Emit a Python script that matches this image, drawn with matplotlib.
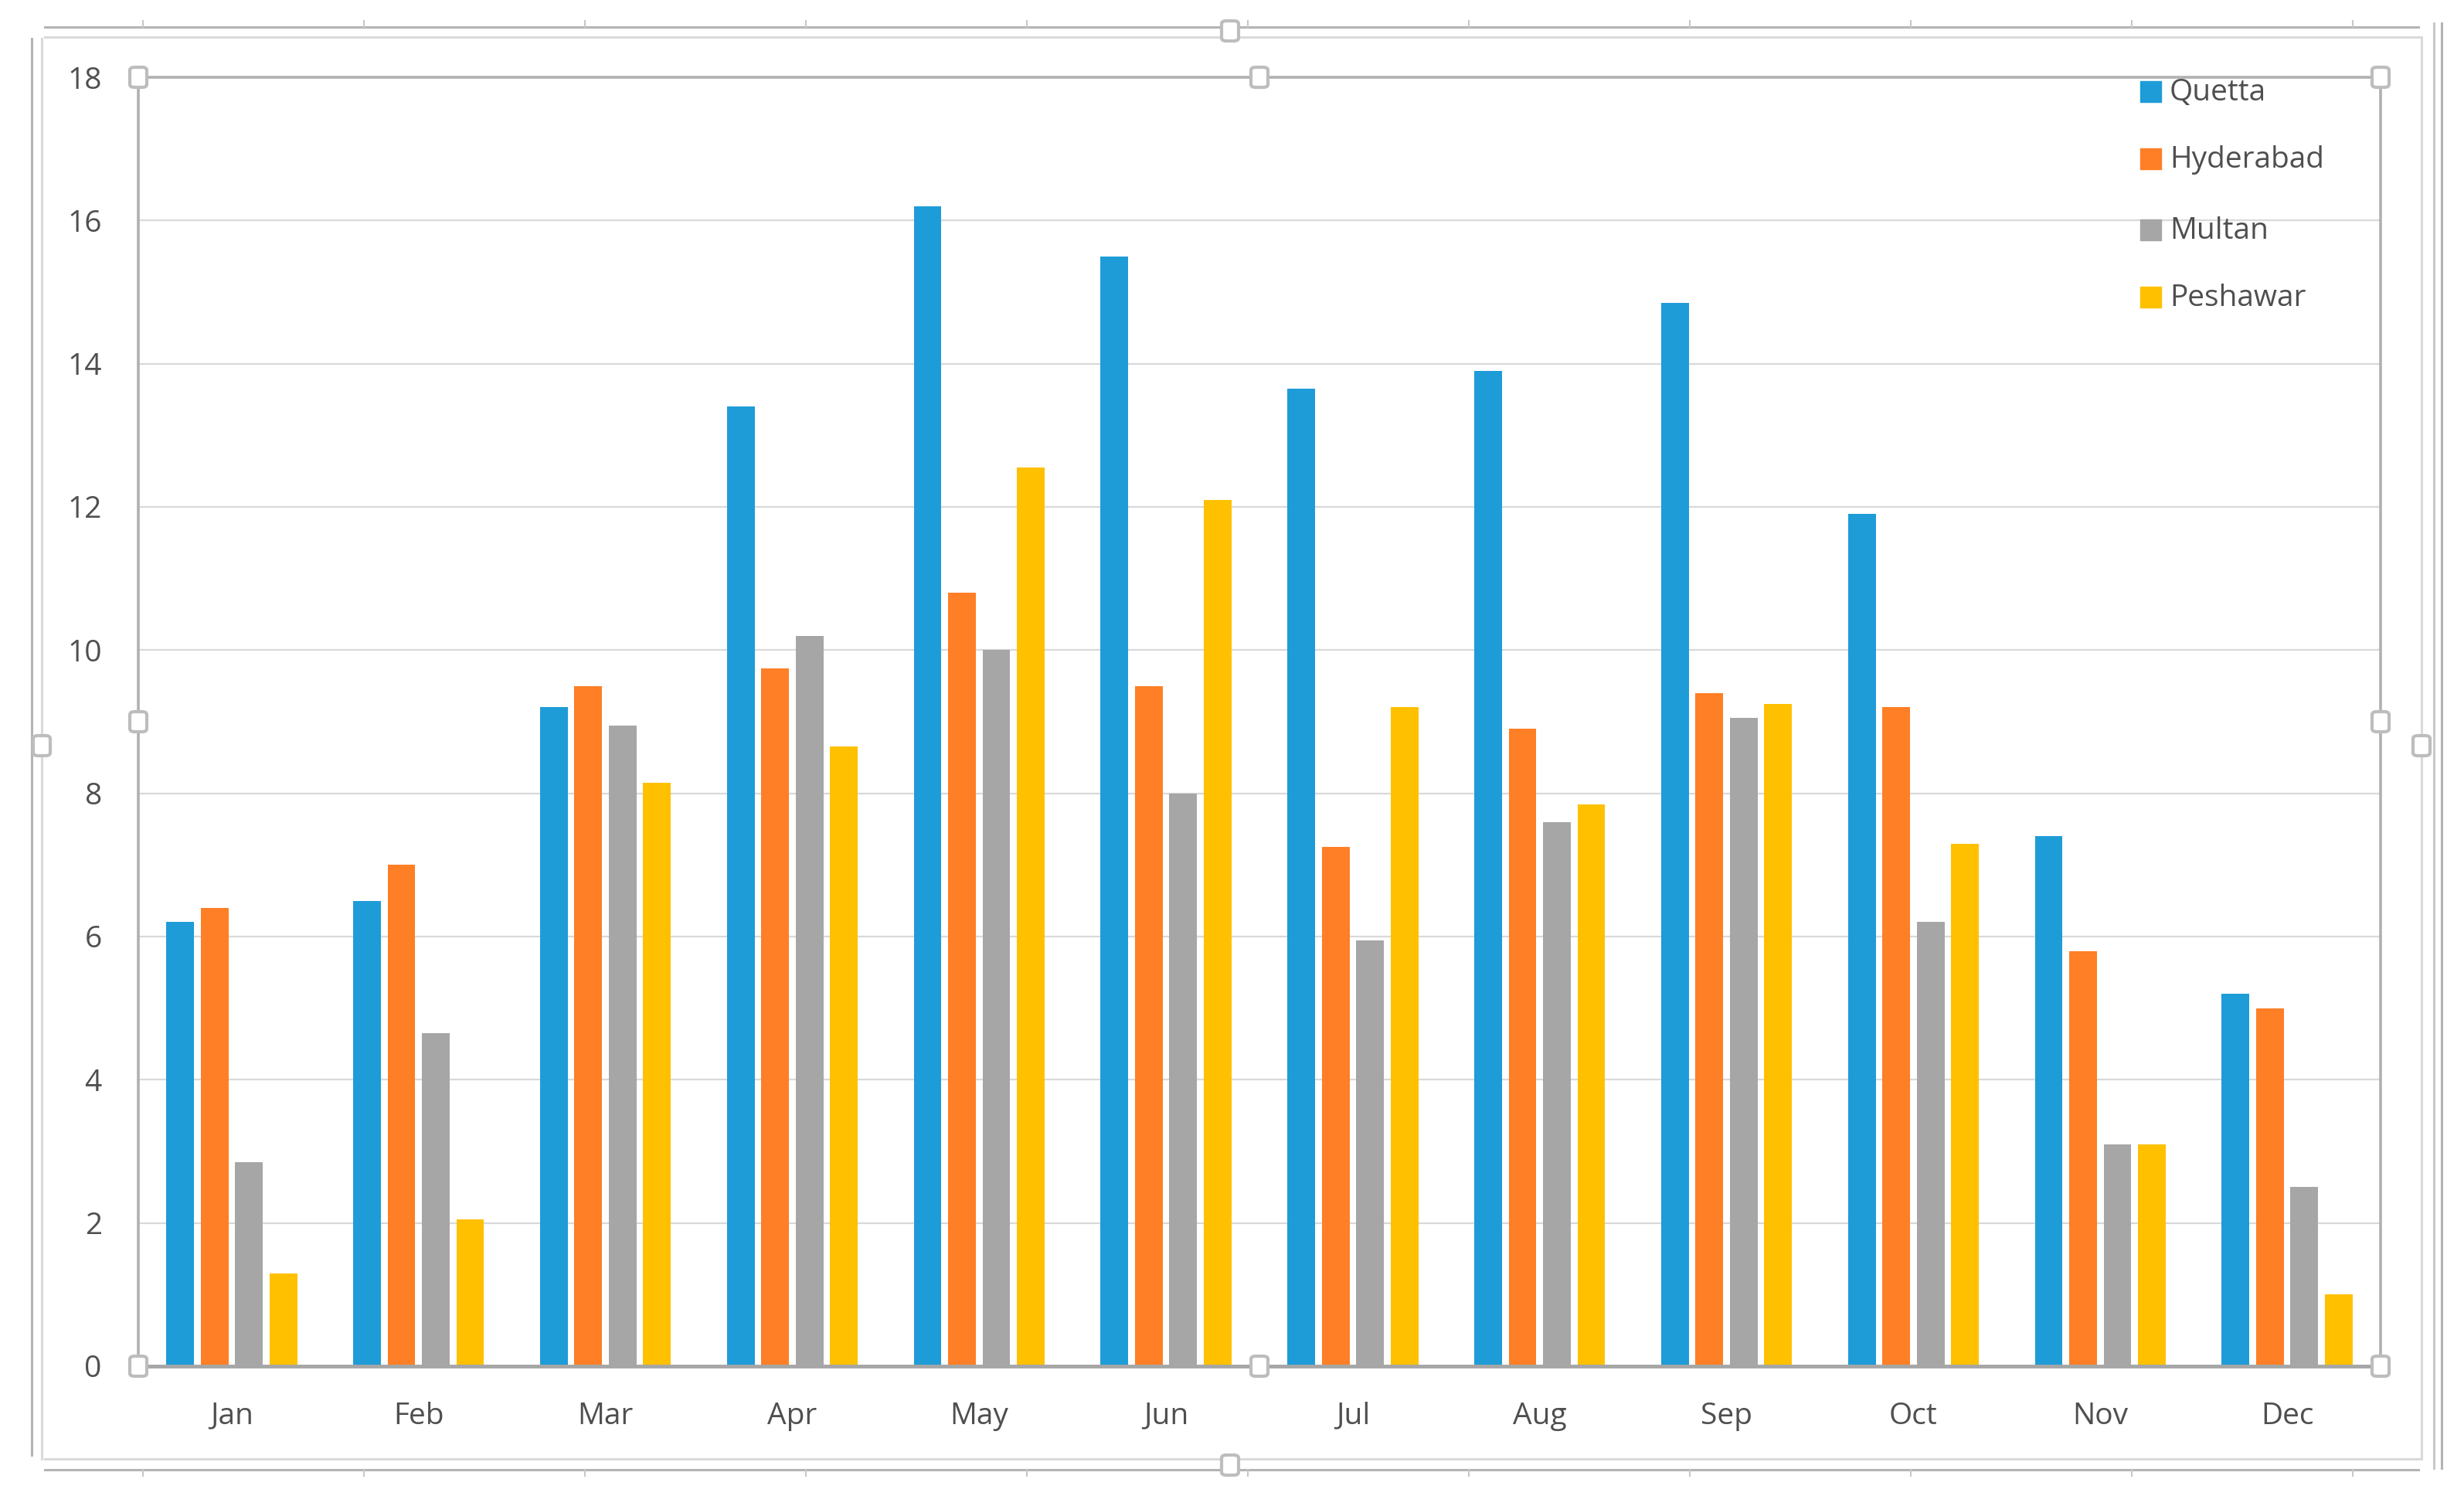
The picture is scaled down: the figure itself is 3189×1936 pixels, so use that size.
import numpy as np
import matplotlib.pyplot as plt
from matplotlib.patches import Rectangle, FancyBboxPatch
from matplotlib.lines import Line2D

plt.rcParams['font.family'] = ['Open Sans', 'DejaVu Sans']

# ---------------------------------------------------------------------------
# data
months = ['Jan', 'Feb', 'Mar', 'Apr', 'May', 'Jun',
          'Jul', 'Aug', 'Sep', 'Oct', 'Nov', 'Dec']
quetta = [6.2, 6.5, 9.2, 13.4, 16.2, 15.5, 13.65, 13.9, 14.85, 11.9, 7.4, 5.2]
hyderabad = [6.4, 7.0, 9.5, 9.75, 10.8, 9.5, 7.25, 8.9, 9.4, 9.2, 5.8, 5.0]
multan = [2.85, 4.65, 8.95, 10.2, 10.0, 8.0, 5.95, 7.6, 9.05, 6.2, 3.1, 2.5]
peshawar = [1.3, 2.05, 8.15, 8.65, 12.55, 12.1, 9.2, 7.85, 9.25, 7.3, 3.1, 1.0]

series = ['Quetta', 'Hyderabad', 'Multan', 'Peshawar']
values = [quetta, hyderabad, multan, peshawar]
colors = ['#1E9CD8', '#FE7F26', '#A6A6A6', '#FFC000']
yticks = [0, 2, 4, 6, 8, 10, 12, 14, 16, 18]

# ---------------------------------------------------------------------------
W, H = 3189, 1936
fig = plt.figure(figsize=(W / 100, H / 100), dpi=100)


def fx(px):
    return px / W


def fy(py):
    return 1 - py / H


# plot area in pixels
L, R, T, B = 179, 3081, 100, 1768
ax = fig.add_axes([fx(L), fy(B), fx(R - L), (B - T) / H])

x = np.arange(len(months))
step = 0.184
width = 0.148
for i, (name, vals, col) in enumerate(zip(series, values, colors)):
    ax.bar(x + (i - 1.5) * step, vals, width, color=col, label=name, zorder=3)

ax.set_xlim(-0.5, 11.5)
ax.set_ylim(0, 18)
ax.set_yticks(yticks)
ax.set_xticks(x)
ax.set_xticklabels(months)
ax.tick_params(axis='both', length=0, labelsize=28, labelcolor='#4F4F4F')
ax.tick_params(axis='x', pad=33)
ax.tick_params(axis='y', pad=34)
ax.grid(axis='y', color='#D9D9D9', linewidth=1.6, zorder=0)

# selected plot area outline
for s in ['top', 'left', 'right']:
    ax.spines[s].set_color('#B0B0B0')
    ax.spines[s].set_linewidth(2.6)
ax.spines['bottom'].set_color('#A6A6A6')
ax.spines['bottom'].set_linewidth(3.5)
ax.spines['bottom'].set_zorder(4)

# legend drawn by hand so it can overlap the plot border like the original
leg_rows = [120, 207, 299, 386]
for name, col, ry in zip(series, colors, leg_rows):
    fig.patches.append(Rectangle((fx(2770), fy(ry + 12)), fx(27), 27 / H,
                                 transform=fig.transFigure, color=col, zorder=6))
    fig.text(fx(2808), fy(ry), name, fontsize=28, color='#4F4F4F',
             va='center', ha='left', zorder=6)

# chart frame lines from the screenshot
def hline(y, x0, x1, col, lw):
    fig.lines.append(Line2D([fx(x0), fx(x1)], [fy(y), fy(y)], transform=fig.transFigure,
                            color=col, linewidth=lw, zorder=1))


def vline(x0, y0, y1, col, lw):
    fig.lines.append(Line2D([fx(x0), fx(x0)], [fy(y0), fy(y1)], transform=fig.transFigure,
                            color=col, linewidth=lw, zorder=1))


hline(35, 58, 3130, '#B4B4B4', 2.2)
hline(1902, 58, 3130, '#B4B4B4', 2.2)
hline(48, 58, 3132, '#DADADA', 2.2)
hline(1888, 58, 3132, '#DADADA', 2.2)
vline(41, 50, 1883, '#B4B4B4', 2.2)
vline(54, 50, 1888, '#DADADA', 2.2)
vline(3134, 48, 1888, '#DADADA', 2.2)
vline(3150, 30, 1900, '#C8C8C8', 2.2)
vline(3160, 30, 1900, '#B4B4B4', 2.2)
for tx in np.arange(185, 3130, 286):
    vline(tx, 27, 35, '#C8C8C8', 1.5)
    vline(tx, 1902, 1910, '#C8C8C8', 1.5)

# selection handles
handles = [(L, T), ((L + R) / 2, T), (R, T), (L, (T + B) / 2), (R, (T + B) / 2),
           (L, B), ((L + R) / 2, B), (R, B),
           (1592, 40), (1592, 1896), (54, 965), (3134, 965)]
for hx, hy in handles:
    fig.patches.append(FancyBboxPatch((fx(hx - 11), fy(hy + 13)), fx(22), 26 / H,
                                      boxstyle='round,pad=0,rounding_size=0.002',
                                      transform=fig.transFigure, facecolor='white',
                                      edgecolor='#BDBDBD', linewidth=3, zorder=7))

fig.savefig('out.png', dpi=100, facecolor='white')
